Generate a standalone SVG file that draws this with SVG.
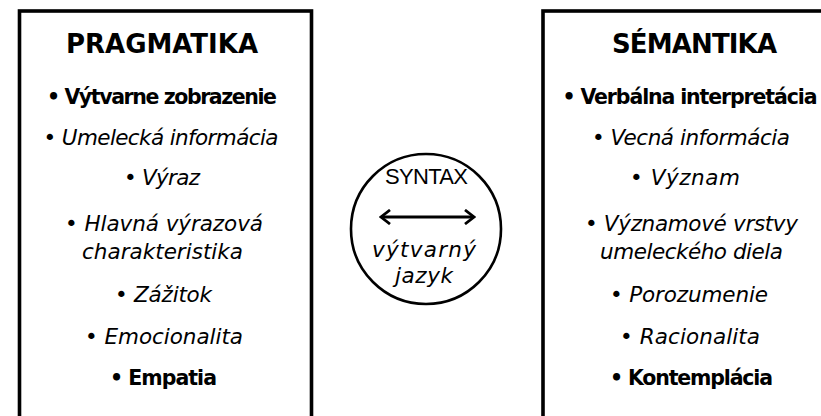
<svg xmlns="http://www.w3.org/2000/svg" width="821" height="416" viewBox="0 0 821 416">
<style>
.box{fill:#fff;stroke:#000;stroke-width:3.6}
.circ{fill:#fff;stroke:#000;stroke-width:2.6}
text{font-family:"DejaVu Sans","Liberation Sans",sans-serif;fill:#000;text-anchor:middle}
.h{font-size:26px;font-weight:700}
.b{font-size:20.5px;font-weight:700}
.i{font-size:21.5px;font-style:italic}
.s{font-family:"Liberation Sans",Arial,sans-serif;font-size:22px}
.arr{fill:none;stroke:#000;stroke-width:2.8}
</style>
<defs>
<marker id="chev" viewBox="0 0 12 16" refX="10" refY="8" markerWidth="12" markerHeight="16" markerUnits="userSpaceOnUse" orient="auto-start-reverse">
<path d="M1,1 L10,8 L1,15" fill="none" stroke="#000" stroke-width="2.8"/>
</marker>
</defs>
<rect width="821" height="416" fill="#fff"/>
<g id="pragmatika">
<rect class="box" x="19.5" y="11" width="292" height="430"/>
<text class="h" x="162" y="53" textLength="192">PRAGMATIKA</text>
<text class="b" x="162" y="104" textLength="230">• Výtvarne zobrazenie</text>
<text class="i" x="161" y="145" textLength="235">• Umelecká informácia</text>
<text class="i" x="162" y="185" textLength="76">• Výraz</text>
<text class="i" x="164" y="231" textLength="198">• Hlavná výrazová</text>
<text class="i" x="162.5" y="259" textLength="161">charakteristika</text>
<text class="i" x="163.5" y="302" textLength="97">• Zážitok</text>
<text class="i" x="164" y="344" textLength="158">• Emocionalita</text>
<text class="b" x="163.5" y="385" textLength="107">• Empatia</text>
</g>
<g id="semantika">
<rect class="box" x="543" y="11" width="300" height="430"/>
<text class="h" x="694.5" y="53" textLength="165">SÉMANTIKA</text>
<text class="b" x="690" y="104" textLength="255">• Verbálna interpretácia</text>
<text class="i" x="691" y="145" textLength="198">• Vecná informácia</text>
<text class="i" x="685" y="185" textLength="110">• Význam</text>
<text class="i" x="691.5" y="231" textLength="213">• Významové vrstvy</text>
<text class="i" x="691.5" y="259" textLength="183">umeleckého diela</text>
<text class="i" x="689" y="302" textLength="158">• Porozumenie</text>
<text class="i" x="690" y="344" textLength="140">• Racionalita</text>
<text class="b" x="691.5" y="385" textLength="163">• Kontemplácia</text>
</g>
<g id="syntax">
<circle class="circ" cx="426" cy="229" r="75"/>
<text class="s" x="426.5" y="184" textLength="83">SYNTAX</text>
<text class="i" x="424" y="257" textLength="104">výtvarný</text>
<text class="i" x="424" y="283" textLength="58">jazyk</text>
</g>
<g id="connectors">
<line class="arr" x1="381" y1="217" x2="474" y2="217" marker-start="url(#chev)" marker-end="url(#chev)"/>
</g>
</svg>
